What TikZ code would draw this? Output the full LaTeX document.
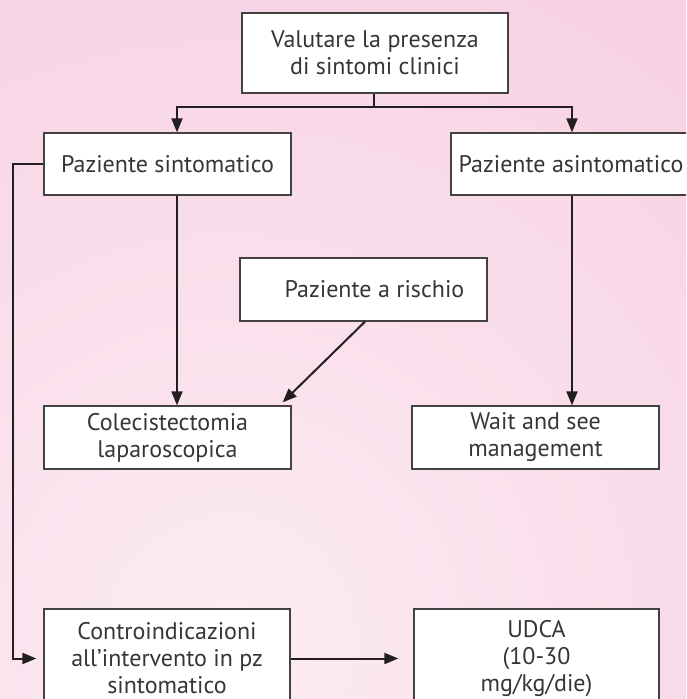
\documentclass[tikz,border=0pt]{standalone}
\usepackage{fontspec}
\setmainfont{PT Sans}
\usetikzlibrary{arrows.meta,calc}
\definecolor{bgpink}{RGB}{246,200,222}
\definecolor{bglight}{RGB}{252,236,243}
\definecolor{ink}{RGB}{35,31,32}
\begin{document}
\begin{tikzpicture}[x=1pt,y=-1pt,
  box/.style={draw=ink!85, line width=1.3pt, fill=white, align=center,
    font=\fontsize{24}{27}\selectfont, text=ink!90, inner sep=0pt},
  conn/.style={draw=ink, line width=2pt},
  arr/.style={conn, -{Triangle[length=14pt,width=11pt]}}]
\useasboundingbox (0,0) rectangle (686,699);
\begin{scope}
  \clip (0,0) rectangle (686,699);
  \fill[bgpink] (0,0) rectangle (686,699);
  \shade[inner color=bglight, outer color=bgpink] (230,640) circle (1000pt);
\end{scope}
\begin{scope}
  \clip (0,0) rectangle (686,699);
  \node[box, minimum width=266pt, minimum height=80pt] (top) at (375,53) {Valutare la presenza\\di sintomi clinici};
  \node[box, minimum width=247pt, minimum height=62pt] (ps) at (167.5,164) {Paziente sintomatico};
  \node[box, minimum width=240pt, minimum height=62pt] (pa) at (571,164) {Paziente asintomatico};
  \node[box, minimum width=247pt, minimum height=63pt] (pr) at (363.5,289.5) {\hspace*{22pt}Paziente a rischio};
  \node[box, minimum width=247pt, minimum height=63pt] (cl) at (167.5,437.5) {Colecistectomia\\laparoscopica};
  \node[box, minimum width=247pt, minimum height=63pt] (ws) at (535.5,437.5) {Wait and see\\management};
  \node[box, minimum width=246pt, minimum height=99pt] (cc) at (167,658.5) {Controindicazioni\\all’intervento in pz\\sintomatico};
  \node[box, minimum width=245pt, minimum height=99pt] (ud) at (536.5,658.5) {UDCA\\(10-30\\mg/kg/die)};

  \coordinate (j) at (374,107);
  \coordinate (cL) at (177,0);
  \coordinate (cR) at (572,0);
  \coordinate (prx) at (365,0);
  \coordinate (lx) at (13,0);
  \draw[conn] (top.south -| j) -- (j);
  \draw[arr] (j) -| (ps.north -| cL);
  \draw[arr] (j) -| (pa.north -| cR);
  \draw[arr] (ps.south -| cL) -- (cl.north -| cL);
  \draw[arr] (pa.south -| cR) -- (ws.north -| cR);
  \draw[arr] (pr.south -| prx) -- ($(cl.north east)+(-9,-3)$);
  \draw[arr, shorten >=7pt] (ps.west) -- (ps.west -| lx) -- (cc.west -| lx) -- (cc.west);
  \draw[arr, shorten >=15pt] (cc.east) -- (ud.west);
\end{scope}
\end{tikzpicture}
\end{document}
